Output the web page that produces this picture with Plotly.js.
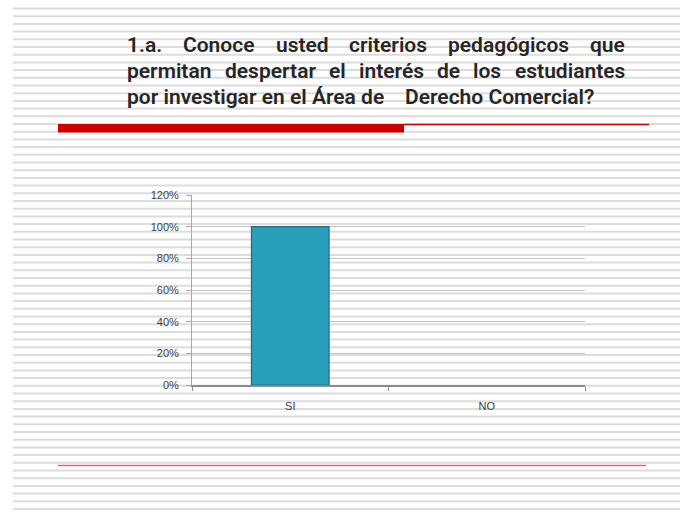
<!DOCTYPE html>
<html>
<head>
<meta charset="utf-8">
<script src="https://cdn.plot.ly/plotly-3.0.1.min.js"></script>
<style>html,body{margin:0;padding:0;background:#fff;}</style>
</head>
<body>
<div id="chart" style="width:680px;height:512px;"></div>
<script>
// ---- data ----
const categories = ["SI", "NO"];
const values = [1.00, 0.00];
const yTickVals = [0, 0.2, 0.4, 0.6, 0.8, 1.0, 1.2];
const yTickText = ["0%", "20%", "40%", "60%", "80%", "100%", "120%"];
const titleLine1 = ["1.a.", "Conoce", "usted", "criterios", "pedagógicos", "que"];
const titleLine2 = ["permitan", "despertar", "el", "interés", "de", "los", "estudiantes"];
const titleLine3 = ["por investigar en el Área de", "Derecho Comercial?"];

// ---- layout geometry (pixels) ----
const W = 680, H = 512;
const L = 192, T = 195, PW = 393, PH = 190;
const px2x = p => (p - L) / PW;
const py2y = p => (T + PH - p) / PH;

const TITLE_LEFT = 127, TITLE_RIGHT = 625;
const lineCY = [45, 71, 97];
const FONT_FAMILY = "Roboto";
const FONT_SIZE = 21;
const FONT_WEIGHT = 600;
const titleFont = {family: FONT_FAMILY + ", 'Liberation Sans', sans-serif", size: FONT_SIZE, color: "#262626", weight: FONT_WEIGHT};

const canvas = document.createElement("canvas");
const ctx = canvas.getContext("2d");
ctx.font = FONT_WEIGHT + " " + FONT_SIZE + "px " + FONT_FAMILY;
const measure = s => ctx.measureText(s).width;

const annotations = [];
function addWord(w, xpx, cy) {
  annotations.push({
    text: w, xref: "paper", yref: "paper",
    x: px2x(xpx), y: py2y(cy), xanchor: "left", yanchor: "middle",
    showarrow: false, font: titleFont, borderpad: 0, borderwidth: 0
  });
}
function addJustified(words, cy) {
  const widths = words.map(measure);
  const total = widths.reduce((a, b) => a + b, 0);
  const gap = (TITLE_RIGHT - TITLE_LEFT - total) / (words.length - 1);
  let x = TITLE_LEFT;
  words.forEach((w, i) => { addWord(w, x, cy); x += widths[i] + gap; });
}
addJustified(titleLine1, lineCY[0]);
addJustified(titleLine2, lineCY[1]);
addWord(titleLine3[0], TITLE_LEFT, lineCY[2]);
addWord(titleLine3[1], Math.max(405, TITLE_LEFT + measure(titleLine3[0]) + 14), lineCY[2]);

// ---- background stripes (slide decoration) ----
const shapes = [];
for (let i = 0; i < 66; i++) {
  const yy = 8.5 + i * 7.7;
  shapes.push({
    type: "line", xref: "paper", yref: "paper", layer: "below",
    x0: px2x(13), x1: px2x(680), y0: py2y(yy), y1: py2y(yy),
    line: {color: "#dcdcdc", width: 2}
  });
}
// red decorations
shapes.push({
  type: "rect", xref: "paper", yref: "paper", layer: "above",
  x0: px2x(58), x1: px2x(404), y0: py2y(124), y1: py2y(132.5),
  fillcolor: "#cc0000", line: {width: 0}
});
shapes.push({
  type: "line", xref: "paper", yref: "paper", layer: "above",
  x0: px2x(404), x1: px2x(649), y0: py2y(124.5), y1: py2y(124.5),
  line: {color: "#cc0000", width: 1.3}
});
shapes.push({
  type: "line", xref: "paper", yref: "paper", layer: "above",
  x0: px2x(58), x1: px2x(646), y0: py2y(465.5), y1: py2y(465.5),
  line: {color: "#e06a6a", width: 1.6}
});

const trace = {
  type: "bar",
  x: categories,
  y: values,
  marker: {color: "#2a9fbc", line: {color: "#1f6b7e", width: values.map(v => v > 0 ? 1.2 : 0)}},
  hoverinfo: "none"
};

const layout = {
  width: W, height: H, autosize: false,
  margin: {l: L, r: W - L - PW, t: T, b: H - T - PH, pad: 0},
  paper_bgcolor: "#ffffff",
  plot_bgcolor: "rgba(0,0,0,0)",
  showlegend: false,
  bargap: 0.605,
  font: {family: "'Liberation Sans', Arial, sans-serif", size: 11, color: "#404040"},
  xaxis: {
    type: "category",
    showline: true, linecolor: "#8a8a8a", linewidth: 1.5,
    ticks: "outside", tickson: "boundaries", ticklen: 4, tickcolor: "#8a8a8a", tickwidth: 1,
    showgrid: false, zeroline: false,
    ticklabelstandoff: 10,
    tickfont: {family: "'Liberation Sans', Arial, sans-serif", size: 11, color: "#404040"},
    fixedrange: true
  },
  yaxis: {
    range: [0, 1.2],
    tickvals: yTickVals, ticktext: yTickText,
    showline: true, linecolor: "#a8a8a8", linewidth: 1,
    ticks: "outside", ticklen: 5, tickcolor: "#a8a8a8",
    showgrid: true, gridcolor: "#c2c2c2", gridwidth: 1,
    zeroline: false,
    ticklabelstandoff: 5,
    tickfont: {family: "'Liberation Sans', Arial, sans-serif", size: 11, color: "#404040"},
    fixedrange: true
  },
  shapes: shapes,
  annotations: annotations
};

Plotly.newPlot("chart", [trace], layout, {displayModeBar: false, staticPlot: true});
</script>
</body>
</html>
